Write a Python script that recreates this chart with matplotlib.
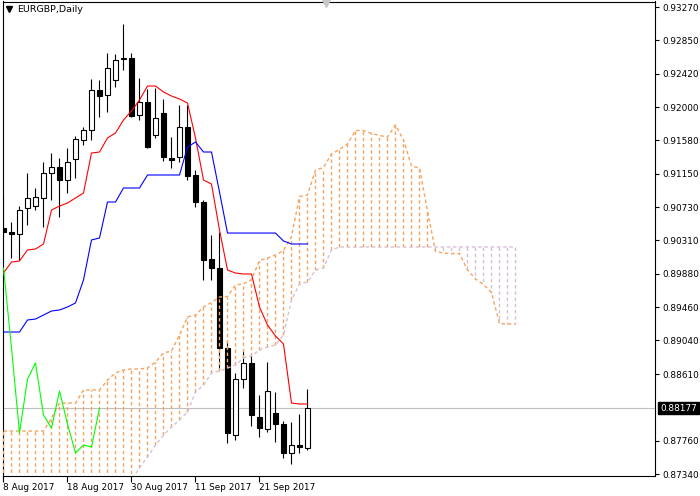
"""EURGBP daily candles with Ichimoku Kinko Hyo, MetaTrader style."""

import numpy as np
import matplotlib
matplotlib.use("Agg")
import matplotlib.pyplot as plt
from matplotlib.patches import Rectangle
from matplotlib.lines import Line2D
from matplotlib.transforms import blended_transform_factory

# --- data (bar 0 = 8 Aug 2017, bar 38 = 29 Sep 2017) ---
opens = [0.90465, 0.90413, 0.90388, 0.90719, 0.90743, 0.90845, 0.91162, 0.91238, 0.91073, 0.91340,
         0.91581, 0.91708, 0.92216, 0.92153, 0.92343, 0.92610, 0.92623, 0.91899, 0.92064, 0.91645,
         0.91924, 0.91353, 0.91365, 0.91746, 0.91137, 0.90794, 0.90070, 0.89956, 0.88940, 0.87835,
         0.88546, 0.88750, 0.88064, 0.87912, 0.88115, 0.87975, 0.87607, 0.87708, 0.87670]
highs = [0.90858, 0.90540, 0.90743, 0.91162, 0.90972, 0.91302, 0.91416, 0.91353, 0.91480, 0.91632,
         0.91746, 0.92356, 0.92343, 0.92686, 0.92673, 0.93054, 0.92686, 0.92369, 0.92229, 0.92242,
         0.92102, 0.91619, 0.92026, 0.92026, 0.91200, 0.90819, 0.90375, 0.90413, 0.89042, 0.88623,
         0.88915, 0.88851, 0.88343, 0.88762, 0.88381, 0.88013, 0.88000, 0.88102, 0.88419]
lows = [0.90350, 0.90083, 0.90058, 0.90502, 0.90692, 0.90477, 0.90819, 0.90604, 0.90908, 0.91099,
        0.91518, 0.91581, 0.91873, 0.91937, 0.92254, 0.92470, 0.91873, 0.91835, 0.91480, 0.91607,
        0.91315, 0.91226, 0.91302, 0.91073, 0.90731, 0.89804, 0.89804, 0.88661, 0.87734, 0.87772,
        0.88432, 0.87950, 0.87810, 0.87874, 0.87747, 0.87543, 0.87467, 0.87607, 0.87645]
closes = [0.90413, 0.90388, 0.90692, 0.90845, 0.90858, 0.91162, 0.91238, 0.91073, 0.91302, 0.91594,
          0.91708, 0.92216, 0.92140, 0.92496, 0.92597, 0.92623, 0.91886, 0.92064, 0.91492, 0.91861,
          0.91365, 0.91327, 0.91746, 0.91124, 0.90794, 0.90058, 0.89956, 0.88940, 0.87861, 0.88546,
          0.88750, 0.88089, 0.87924, 0.88394, 0.87975, 0.87607, 0.87708, 0.87683, 0.88177]

tenkan = [0.89892, 0.90032, 0.90045, 0.90185, 0.90197, 0.90261, 0.90692, 0.90743, 0.90781, 0.90845,
          0.90908, 0.91416, 0.91429, 0.91607, 0.91670, 0.91835, 0.91950, 0.92089, 0.92267, 0.92267,
          0.92191, 0.92140, 0.92102, 0.92051, 0.91607, 0.91073, 0.91023, 0.90439, 0.89931, 0.89892,
          0.89880, 0.89880, 0.89461, 0.89232, 0.89093, 0.88991, 0.88242, 0.88229, 0.88229]
kijun = [0.89143, 0.89143, 0.89143, 0.89296, 0.89308, 0.89359, 0.89410, 0.89423, 0.89461, 0.89512,
         0.89804, 0.90312, 0.90337, 0.90794, 0.90794, 0.90972, 0.90972, 0.90972, 0.91137, 0.91137,
         0.91137, 0.91137, 0.91137, 0.91492, 0.91556, 0.91429, 0.91429, 0.90921, 0.90400, 0.90400,
         0.90400, 0.90400, 0.90400, 0.90400, 0.90400, 0.90299, 0.90261, 0.90261, 0.90261]

# senkou spans, bars 0..64 (26 bars beyond the last candle)
span_a = [0.87886, 0.87886, 0.87886, 0.87886, 0.87886, 0.87886, 0.88051, 0.88242, 0.88242, 0.88242,
          0.88407, 0.88407, 0.88407, 0.88534, 0.88623, 0.88661, 0.88674, 0.88674, 0.88686, 0.88762,
          0.88877, 0.88902, 0.89105, 0.89335, 0.89359, 0.89461, 0.89518, 0.89588, 0.89594, 0.89741,
          0.89753, 0.89810, 0.90051, 0.90083, 0.90121, 0.90179, 0.90356, 0.90864, 0.90883, 0.91201,
          0.91232, 0.91404, 0.91461, 0.91531, 0.91702, 0.91702, 0.91664, 0.91639, 0.91620, 0.91772,
          0.91582, 0.91251, 0.91226, 0.90680, 0.90166, 0.90146, 0.90140, 0.90140, 0.89931, 0.89816,
          0.89747, 0.89645, 0.89252, 0.89245, 0.89245]
span_b = [0.87200, 0.87200, 0.87200, 0.87200, 0.87200, 0.87200, 0.87200, 0.87200, 0.87200, 0.87200,
          0.87200, 0.87200, 0.87200, 0.87200, 0.87200, 0.87200, 0.87264, 0.87417, 0.87557, 0.87708,
          0.87835, 0.87937, 0.88026, 0.88127, 0.88381, 0.88470, 0.88623, 0.88648, 0.88686, 0.88724,
          0.88813, 0.88839, 0.88915, 0.88953, 0.88978, 0.89105, 0.89550, 0.89753, 0.89778, 0.89931,
          0.89956, 0.90185, 0.90223, 0.90223, 0.90223, 0.90223, 0.90223, 0.90223, 0.90223, 0.90223,
          0.90223, 0.90223, 0.90223, 0.90223, 0.90223, 0.90223, 0.90223, 0.90223, 0.90223, 0.90223,
          0.90223, 0.90223, 0.90223, 0.90223, 0.90223]

SHIFT = 26
date_ticks = [0, 8, 16, 24, 32]
date_labels = ["8 Aug 2017", "18 Aug 2017", "30 Aug 2017", "11 Sep 2017", "21 Sep 2017"]
price_ticks = [0.93270, 0.92850, 0.92420, 0.92000, 0.91580, 0.91150, 0.90730, 0.90310,
               0.89880, 0.89460, 0.89040, 0.88610, 0.87760, 0.87340]

SANDY = "#F4A460"
THISTLE = "#D8BFD8"
DOT = (0, (2.5, 2))
FS = 6.4

plt.rcParams.update({
    "font.family": "DejaVu Sans",
    "axes.linewidth": 0.8,
})

fig = plt.figure(figsize=(7.0, 4.96), dpi=100)
fig.patch.set_facecolor("white")
ax = fig.add_axes([3 / 700, 20 / 496, 652 / 700, 474.5 / 496])

o = np.array(opens)
h = np.array(highs)
l = np.array(lows)
c = np.array(closes)
xb = np.arange(len(c))

# current price line
last = c[-1]
ax.axhline(last, color="#c0c0c0", lw=0.8, zorder=1)

# candles
ax.vlines(xb, l, h, color="black", lw=0.8, zorder=2)
for i in range(len(c)):
    up = c[i] >= o[i]
    bottom = min(o[i], c[i])
    height = max(abs(c[i] - o[i]), 0.00004)
    ax.add_patch(Rectangle((i - 0.27, bottom), 0.54, height,
                           facecolor="white" if up else "black",
                           edgecolor="black", lw=0.8, zorder=2.5))

# kumo: dotted histogram between the two spans
sa = np.array(span_a)
sb = np.array(span_b)
for k in range(len(sa)):
    col = SANDY if sa[k] >= sb[k] else THISTLE
    ax.plot([k, k], [sb[k], sa[k]], color=col, ls=DOT, lw=1.0, zorder=3)
xc = np.arange(len(sa))
ax.plot(xc, sa, color=SANDY, ls=DOT, lw=1.0, zorder=3.1)
ax.plot(xc, sb, color=THISTLE, ls=DOT, lw=1.0, zorder=3.1)

# tenkan / kijun / chikou
ax.plot(xb, tenkan, color="#FF0000", lw=0.8, zorder=4)
ax.plot(xb, kijun, color="#0000FF", lw=0.8, zorder=4)
ax.plot(xb[SHIFT:] - SHIFT, c[SHIFT:], color="#00FF00", lw=0.8, zorder=4)

ax.set_xlim(-0.0625, 81.44)
ax.set_ylim(0.87315, 0.93340)

ax.set_xticks(date_ticks)
ax.set_xticklabels(date_labels, ha="left")
ax.tick_params(axis="x", length=4, width=0.8, pad=1.0, labelsize=FS, direction="out")

ax.yaxis.tick_right()
ax.set_yticks(price_ticks)
ax.set_yticklabels([f"{v:.5f}" for v in price_ticks])
ax.tick_params(axis="y", length=3, width=0.8, pad=2, labelsize=FS, direction="out")

for spine in ax.spines.values():
    spine.set_edgecolor("black")

# last price tag on the price scale
blend = blended_transform_factory(ax.transAxes, ax.transData)
ax.annotate(f"{last:.5f}", xy=(1.0, last), xycoords=blend, xytext=(5, 0),
            textcoords="offset pixels", ha="left", va="center", fontsize=FS,
            color="white", annotation_clip=False,
            bbox=dict(boxstyle="square,pad=0.2", fc="black", ec="black"))

# symbol caption and chart-shift marker
fig.add_artist(Line2D([9 / 700], [1 - 9 / 496], marker="v", color="black",
                      markersize=4, transform=fig.transFigure))
fig.text(17 / 700, 1 - 10 / 496, "EURGBP,Daily", ha="left", va="center", fontsize=6.8)
fig.add_artist(Line2D([326 / 700], [1 - 3 / 496], marker="v", color="#c8c8c8",
                      markersize=6, transform=fig.transFigure))

fig.savefig("out.png", dpi=100, facecolor="white")
